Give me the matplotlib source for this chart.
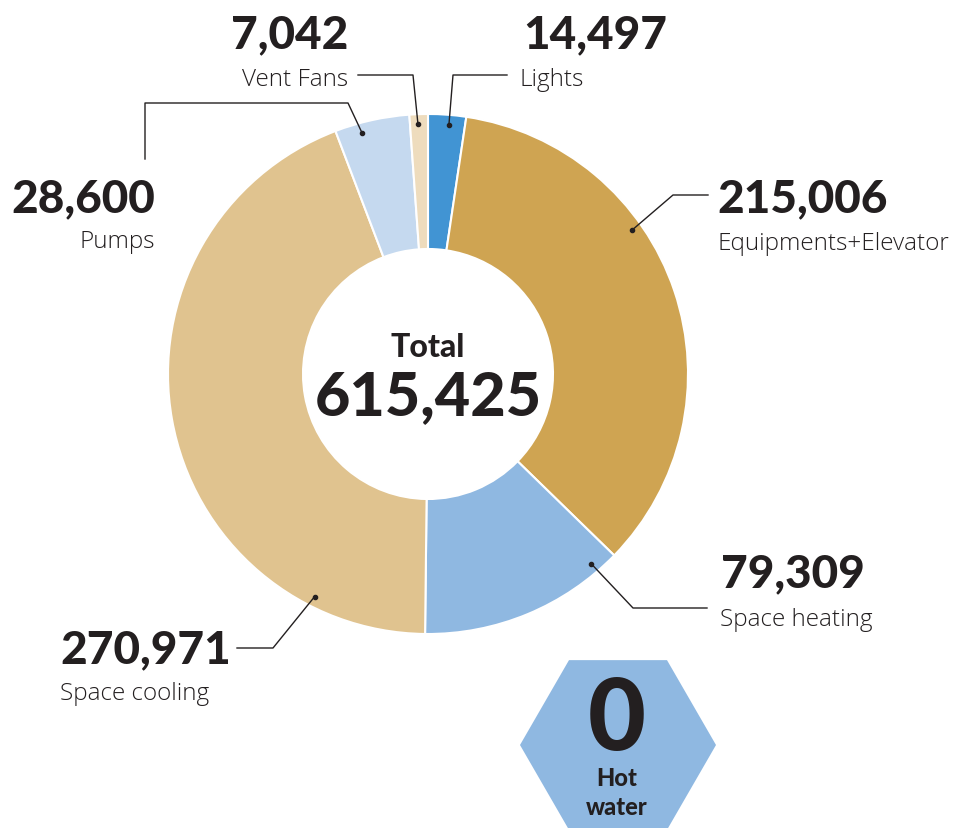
import numpy as np
import matplotlib
matplotlib.use("Agg")
import matplotlib.pyplot as plt
from matplotlib.patches import RegularPolygon

# ---- data ----
categories = ["Lights", "Equipments+Elevator", "Space heating",
              "Space cooling", "Pumps", "Vent Fans"]
values = [14497, 215006, 79309, 270971, 28600, 7042]
colors = ["#4194d3", "#cfa452", "#8fb8e1", "#e0c38f", "#c5d9ef", "#eedcbd"]
hot_water = 0

# ---- layout (pixels, y down) ----
W, H = 961, 829
cx, cy, R, RING = 428, 375, 260, 135
INK = "#231f20"
BOLD = dict(family=["Lato", "DejaVu Sans"], weight="black", color=INK)
THIN = dict(family=["Open Sans", "DejaVu Sans"], weight="light", color=INK)

# label: (dot angle from top clockwise, leader path, number xy, label xy, ha)
layout = {
    "Lights": (4.8, [(453, 76), (507, 76)], (523, 48), (520, 86), "left"),
    "Vent Fans": (-2.3, [(413, 76), (358, 76)], (348, 48), (348, 86), "right"),
    "Pumps": (-15.3, [(348, 104), (145, 104), (145, 160)], (155, 212), (155, 248), "right"),
    "Equipments+Elevator": (54.8, [(673, 196), (708, 196)], (717, 212), (717, 250), "left"),
    "Space heating": (139.3, [(633, 609), (707, 609)], (721, 587), (720, 626), "left"),
    "Space cooling": (207.0, [(273, 649), (237, 649)], (60, 663), (60, 700), "left"),
}

fig = plt.figure(figsize=(W / 100, H / 100), dpi=100)
ax = fig.add_axes([0, 0, 1, 1])

ax.pie(values, colors=colors, center=(cx, cy), radius=R,
       startangle=-90, counterclock=True,
       wedgeprops=dict(width=RING, edgecolor="white", linewidth=1.5))
ax.set_xlim(0, W)
ax.set_ylim(H, 0)
ax.set_aspect("equal")
ax.axis("off")

for cat, val in zip(categories, values):
    ang, path, num_xy, lab_xy, ha = layout[cat]
    a = np.deg2rad(ang)
    dot = (cx + 250 * np.sin(a), cy - 250 * np.cos(a))
    xs = [dot[0]] + [p[0] for p in path]
    ys = [dot[1]] + [p[1] for p in path]
    ax.plot(xs, ys, color=INK, lw=1.0)
    ax.plot(*dot, "o", color=INK, ms=3)
    ax.text(*num_xy, f"{val:,}", ha=ha, va="baseline", fontsize=33, **BOLD)
    ax.text(*lab_xy, cat, ha=ha, va="baseline", fontsize=17.5, **THIN)

# centre total
ax.text(cx, 357, "Total", ha="center", va="baseline", fontsize=23, **BOLD)
ax.text(cx, 415, f"{sum(values):,}", ha="center", va="baseline", fontsize=44, **BOLD)

# hot water hexagon
ax.add_patch(RegularPolygon((618, 746), numVertices=6, radius=98,
                            orientation=np.pi / 6, facecolor="#8fb8e1", edgecolor="none"))
ax.text(617, 750, f"{hot_water}", ha="center", va="baseline", fontsize=72, **BOLD)
ax.text(617, 786, "Hot", ha="center", va="baseline", fontsize=17, **BOLD)
ax.text(617, 815, "water", ha="center", va="baseline", fontsize=17, **BOLD)

plt.savefig("out.png", dpi=100)
